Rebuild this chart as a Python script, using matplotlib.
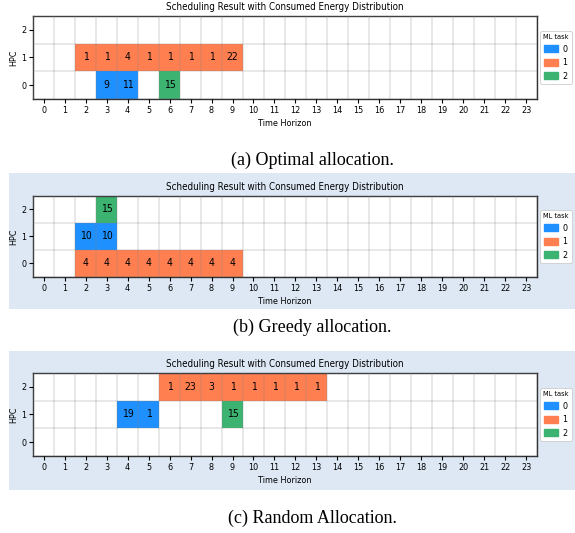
import matplotlib
matplotlib.use("Agg")
import matplotlib.pyplot as plt
from matplotlib.patches import Patch, Rectangle

plt.rcParams['font.stretch'] = 'condensed'

# one list per field: HPC row, time slot, ML task id, consumed energy
optimal_hpc = [1, 1, 1, 1, 1, 1, 1, 1, 0, 0, 0]
optimal_time = [2, 3, 4, 5, 6, 7, 8, 9, 3, 4, 6]
optimal_task = [1, 1, 1, 1, 1, 1, 1, 1, 0, 0, 2]
optimal_energy = [1, 1, 4, 1, 1, 1, 1, 22, 9, 11, 15]

greedy_hpc = [0, 0, 0, 0, 0, 0, 0, 0, 1, 1, 2]
greedy_time = [2, 3, 4, 5, 6, 7, 8, 9, 2, 3, 3]
greedy_task = [1, 1, 1, 1, 1, 1, 1, 1, 0, 0, 2]
greedy_energy = [4, 4, 4, 4, 4, 4, 4, 4, 10, 10, 15]

random_hpc = [2, 2, 2, 2, 2, 2, 2, 2, 1, 1, 1]
random_time = [6, 7, 8, 9, 10, 11, 12, 13, 4, 5, 9]
random_task = [1, 1, 1, 1, 1, 1, 1, 1, 0, 0, 2]
random_energy = [1, 23, 3, 1, 1, 1, 1, 1, 19, 1, 15]

n_slots = 24
n_hpc = 3
task_ids = [0, 1, 2]
task_colors = ['#1e90ff', '#ff7f50', '#3cb371']

captions = ['(a) Optimal allocation.', '(b) Greedy allocation.', '(c) Random Allocation.']


def draw_panel(ax, hpc, time, task, energy):
    for h, t, k, e in zip(hpc, time, task, energy):
        ax.bar(t, 1, bottom=h - 0.5, width=1, color=task_colors[k], linewidth=0)
        ax.text(t, h, str(e), ha='center', va='center', fontsize=7.5)

    ax.set_xlim(-0.5, n_slots - 0.5)
    ax.set_ylim(-0.5, n_hpc - 0.5)
    ax.set_xticks(range(n_slots))
    ax.set_yticks(range(n_hpc))
    ax.set_xticks([i + 0.5 for i in range(-1, n_slots)], minor=True)
    ax.set_yticks([i + 0.5 for i in range(-1, n_hpc)], minor=True)
    ax.tick_params(which='minor', length=0)
    ax.tick_params(which='major', labelsize=6.5, length=3, pad=2)
    ax.set_axisbelow(False)
    ax.grid(which='minor', color='gray', alpha=0.2, linewidth=1.3)
    for s in ax.spines.values():
        s.set_color('#333333')
        s.set_linewidth(1.0)

    ax.set_title('Scheduling Result with Consumed Energy Distribution', fontsize=7, pad=4)
    ax.set_xlabel('Time Horizon', fontsize=6.5, labelpad=3)
    ax.set_ylabel('HPC', fontsize=6.5, labelpad=2)

    handles = [Patch(color=c, label=str(i)) for i, c in zip(task_ids, task_colors)]
    leg = ax.legend(handles=handles, title='ML task', loc='center left',
                    bbox_to_anchor=(1.0, 0.5), borderaxespad=0.3, fontsize=6.5,
                    title_fontsize=5.3, handlelength=1.6, handleheight=0.8,
                    borderpad=0.35, labelspacing=0.5, handletextpad=0.5,
                    framealpha=1)
    leg.get_frame().set_linewidth(0.6)


fig = plt.figure(figsize=(5.75, 5.33), dpi=100)

# light blue screenshot backgrounds behind panels (b) and (c)
bg = '#dde8f4'
fig.patches.append(Rectangle((0.0157, 0.4203), 0.984, 0.2552, transform=fig.transFigure,
                             facecolor=bg, edgecolor='none', zorder=-5))
fig.patches.append(Rectangle((0.0157, 0.0807), 0.984, 0.2608, transform=fig.transFigure,
                             facecolor=bg, edgecolor='none', zorder=-5))

ax_a = fig.add_axes([0.0574, 0.8143, 0.8765, 0.1557])
ax_b = fig.add_axes([0.0574, 0.4803, 0.8765, 0.1520])
ax_c = fig.add_axes([0.0574, 0.1445, 0.8765, 0.1557])

draw_panel(ax_a, optimal_hpc, optimal_time, optimal_task, optimal_energy)
draw_panel(ax_b, greedy_hpc, greedy_time, greedy_task, greedy_energy)
draw_panel(ax_c, random_hpc, random_time, random_task, random_energy)

cap_y = [1 - 160 / 533, 1 - 327 / 533, 1 - 518 / 533]
for txt, y in zip(captions, cap_y):
    fig.text(0.543, y, txt, ha='center', va='center', fontsize=13,
             family=['Liberation Serif', 'DejaVu Serif'], stretch='normal')

fig.savefig('out.png', dpi=100)
